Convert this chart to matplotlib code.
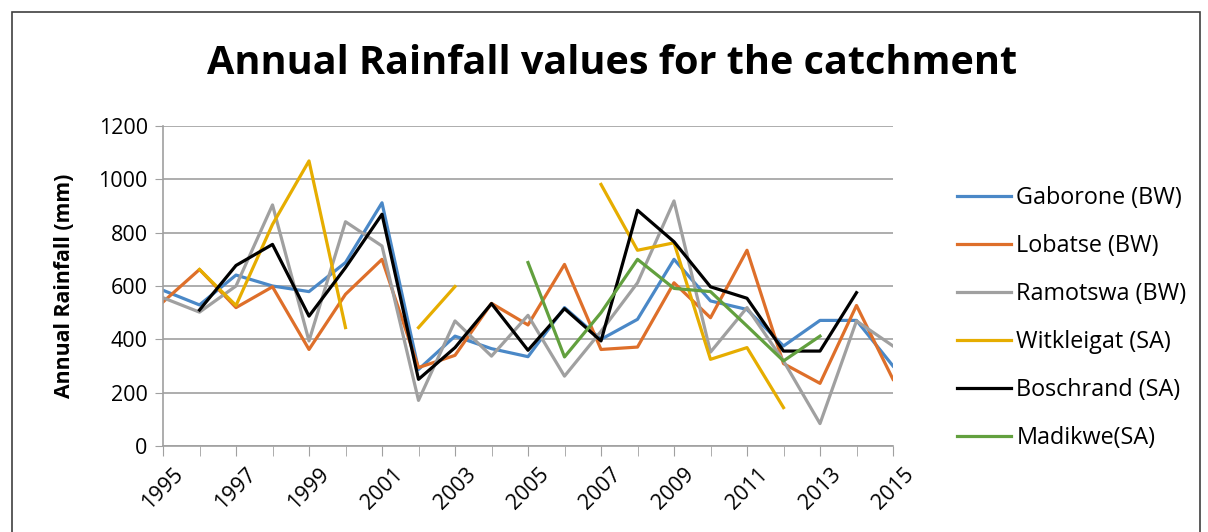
import numpy as np
import matplotlib
matplotlib.use('Agg')
import matplotlib.pyplot as plt
import matplotlib.patches as patches

nan = np.nan

# years on the x axis
years = list(range(1995, 2016))

# annual rainfall (mm), nan where a station has no value
gaborone = [584, 529, 641, 600, 579, 688, 912, 287, 412, 365, 335, 519, 400, 475,
            700, 544, 512, 375, 471, 471, 300]
lobatse = [540, 662, 519, 597, 362, 569, 700, 294, 340, 535, 454, 681, 362, 371,
           612, 481, 734, 309, 235, 527, 250]
ramotswa = [556, 502, 600, 904, 394, 841, 750, 171, 469, 337, 490, 262, 430, 612,
            919, 352, 519, 319, 84, 469, 375]
witkleigat = [nan, 662, 527, 831, 1069, 444, nan, 444, 598, nan, nan, nan, 981, 734,
              762, 325, 369, 144, nan, nan, nan]
boschrand = [nan, 510, 677, 756, 487, 669, 869, 250, 369, 534, 359, 515, 394, 884,
             766, 597, 554, 356, 356, 575, nan]
madikwe = [nan, nan, nan, nan, nan, nan, nan, nan, nan, nan, 688, 334, 500, 700,
           591, 579, 450, 319, 412, nan, nan]

series_names = ['Gaborone (BW)', 'Lobatse (BW)', 'Ramotswa (BW)',
                'Witkleigat (SA)', 'Boschrand (SA)', 'Madikwe(SA)']
series_values = [gaborone, lobatse, ramotswa, witkleigat, boschrand, madikwe]
colors = ['#4A88C7', '#DE6F2A', '#A0A0A0', '#E6AD00', '#000000', '#62A03E']

plt.rcParams['font.family'] = ['Open Sans', 'DejaVu Sans']

fig = plt.figure(figsize=(12.08, 5.32), dpi=100)
ax = fig.add_axes([163 / 1208, 1 - 446 / 532, 730 / 1208, 320 / 532])

for name, vals, c in zip(series_names, series_values, colors):
    ax.plot(years, vals, color=c, linewidth=2.3, label=name)

ax.set_xlim(1995, 2015)
ax.set_ylim(0, 1200)
ax.set_yticks(range(0, 1201, 200))
ax.set_xticks(years, minor=True)
ax.set_xticks(years[::2])
ax.set_xticklabels([str(y) for y in years[::2]], rotation=45, fontsize=15.5,
                   ha='center', va='top')
ax.tick_params(axis='x', which='both', length=7, color='#A0A0A0', pad=6)
ax.tick_params(axis='y', length=6, color='#A0A0A0', labelsize=15.5, pad=5)

ax.grid(axis='y', color='#A0A0A0', linewidth=1.2)
ax.set_axisbelow(True)
for s in ['top', 'right']:
    ax.spines[s].set_visible(False)
for s in ['left', 'bottom']:
    ax.spines[s].set_color('#A0A0A0')
    ax.spines[s].set_linewidth(1.2)

ax.set_ylabel('Annual Rainfall (mm)', fontsize=15.3, fontweight='bold')
ax.yaxis.set_label_coords((75 - 163) / 730, 0.5)

fig.text(612 / 1208, 1 - 64 / 532, 'Annual Rainfall values for the catchment',
         fontsize=28.5, fontweight='bold', ha='center', va='center')

ax.legend(loc='upper left', bbox_to_anchor=(957 / 1208, 1 - 186 / 532),
          bbox_transform=fig.transFigure, frameon=False, fontsize=16.8,
          handlelength=2.3, labelspacing=1.03, handletextpad=0.25,
          borderpad=0, borderaxespad=0)

# outer chart border
fig.patches.append(patches.Rectangle((12 / 1208, -0.05), 1188 / 1208, 1.05 - 12 / 532,
                                     transform=fig.transFigure, fill=False,
                                     edgecolor='#404040', linewidth=1.2))

fig.savefig('out.png', dpi=100)
